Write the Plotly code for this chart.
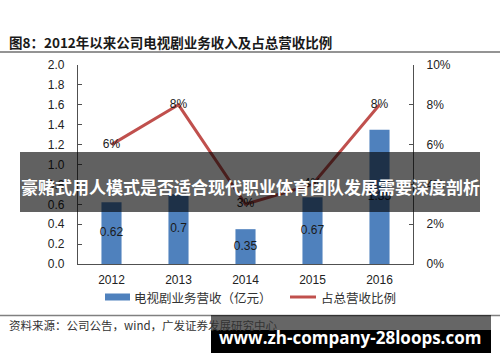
import plotly.graph_objects as go

# ---- data ----
years = ["2012", "2013", "2014", "2015", "2016"]
revenue = [0.62, 0.7, 0.35, 0.67, 1.35]          # 电视剧业务营收（亿元）
ratio_pct = [6, 8, 3, 4, 8]                       # 占总营收比例 (%)
left_ticks = [0.0, 0.2, 0.4, 0.6, 0.8, 1.0, 1.2, 1.4, 1.6, 1.8, 2.0]
right_ticks = [0, 2, 4, 6, 8, 10]

title_text = "图8：2012年以来公司电视剧业务收入及占总营收比例"
legend_bar = "电视剧业务营收（亿元）"
legend_line = "占总营收比例"
source_text = "资料来源：公司公告，wind，广发证券发展研究中心"
banner_text = "豪赌式用人模式是否适合现代职业体育团队发展需要深度剖析"
watermark_text = "www.zh-company-28loops.com"

# ---- layout geometry ----
W, H = 500, 362
L, R, T, B = 78, 87, 65, 98
PW, PH = W - L - R, H - T - B


def px(x):
    return (x - L) / PW


def py(y):
    return (H - B - y) / PH


NUM_FONT = "Liberation Sans, Arial, sans-serif"
CJK_FONT = "Noto Sans CJK SC, sans-serif"
BAR_COLOR = "#4F81BD"
LINE_COLOR = "#C0504D"
AXIS_COLOR = "#505050"

fig = go.Figure()

fig.add_trace(go.Bar(
    x=years, y=revenue, marker_color=BAR_COLOR, marker_line_width=0,
    showlegend=False, hoverinfo="skip",
))
fig.add_trace(go.Scatter(
    x=years, y=[v / 2 for v in revenue], mode="text",
    text=[str(v) for v in revenue], textposition="middle center",
    textfont=dict(family=NUM_FONT, size=12, color="#1a1a1a"),
    showlegend=False, hoverinfo="skip", cliponaxis=False,
))
fig.add_trace(go.Scatter(
    x=years, y=ratio_pct, yaxis="y2", mode="lines+text",
    line=dict(color=LINE_COLOR, width=3),
    text=[f"{p}%" for p in ratio_pct], textposition="middle center",
    textfont=dict(family=NUM_FONT, size=12, color="#1a1a1a"),
    showlegend=False, hoverinfo="skip", cliponaxis=False,
))

shapes = [
    # title underline
    dict(type="line", xref="paper", yref="paper", x0=px(0), x1=px(W), y0=py(52), y1=py(52),
         line=dict(color="#707070", width=1.5)),
    # source line
    dict(type="line", xref="paper", yref="paper", x0=px(0), x1=px(W), y0=py(315.5), y1=py(315.5),
         line=dict(color="#808080", width=1.5)),
    # legend: bar swatch
    dict(type="rect", xref="paper", yref="paper", x0=px(105), x1=px(130), y0=py(300.5), y1=py(293.5),
         fillcolor=BAR_COLOR, line_width=0),
    # legend: line swatch
    dict(type="line", xref="paper", yref="paper", x0=px(290), x1=px(316), y0=py(297), y1=py(297),
         line=dict(color=LINE_COLOR, width=3)),
    # banner
    dict(type="rect", xref="paper", yref="paper", x0=px(20), x1=px(480), y0=py(212), y1=py(152),
         fillcolor="rgba(0,0,0,0.62)", line_width=0, layer="above"),
    # watermark
    dict(type="rect", xref="paper", yref="paper", x0=px(211), x1=px(491), y0=py(330), y1=py(315),
         fillcolor="rgba(0,0,0,0.6)", line_width=0, layer="above"),
    dict(type="rect", xref="paper", yref="paper", x0=px(211), x1=px(491), y0=py(353), y1=py(330),
         fillcolor="#000000", line_width=0, layer="above"),
]

annotations = [
    dict(text=f"<b>{title_text}</b>", xref="paper", yref="paper", x=px(7), y=py(42),
         xanchor="left", yanchor="middle", showarrow=False,
         font=dict(family=CJK_FONT, size=13.5, color="#1a1a1a")),
    dict(text=legend_bar, xref="paper", yref="paper", x=px(132), y=py(297),
         xanchor="left", yanchor="middle", showarrow=False,
         font=dict(family=CJK_FONT, size=12.5, color="#333333")),
    dict(text=legend_line, xref="paper", yref="paper", x=px(319), y=py(297),
         xanchor="left", yanchor="middle", showarrow=False,
         font=dict(family=CJK_FONT, size=12.5, color="#333333")),
    dict(text=source_text, xref="paper", yref="paper", x=px(7), y=py(325),
         xanchor="left", yanchor="middle", showarrow=False,
         font=dict(family=CJK_FONT, size=11.5, color="#333333")),
    dict(text=f"<b>{banner_text}</b>", xref="paper", yref="paper", x=px(250), y=py(186),
         xanchor="center", yanchor="middle", showarrow=False,
         font=dict(family=CJK_FONT, size=17, color="#ffffff")),
    dict(text=f"<b>{watermark_text}</b>", xref="paper", yref="paper", x=px(350), y=py(337),
         xanchor="center", yanchor="middle", showarrow=False,
         font=dict(family="Open Sans, sans-serif", size=17, color="#ffffff")),
]

fig.update_layout(
    width=W, height=H,
    margin=dict(l=L, r=R, t=T, b=B, pad=0),
    paper_bgcolor="white", plot_bgcolor="white",
    bargap=0.70,
    showlegend=False,
    shapes=shapes,
    annotations=annotations,
    xaxis=dict(
        type="category", showline=True, linecolor=AXIS_COLOR, linewidth=1.2,
        showgrid=False, ticks="", zeroline=False,
        tickfont=dict(family=NUM_FONT, size=12, color="#222222"),
        ticklabelstandoff=4,
    ),
    yaxis=dict(
        range=[0, 2.0], tickvals=left_ticks, ticktext=[f"{v:.1f}" for v in left_ticks],
        showline=True, linecolor=AXIS_COLOR, linewidth=1.2, showgrid=False, zeroline=False,
        ticks="inside", ticklen=4, tickcolor=AXIS_COLOR,
        tickfont=dict(family=NUM_FONT, size=12, color="#222222"),
        ticklabelstandoff=10,
    ),
    yaxis2=dict(
        range=[0, 10], tickvals=right_ticks, ticktext=[f"{v}%" for v in right_ticks],
        overlaying="y", side="right",
        showline=True, linecolor=AXIS_COLOR, linewidth=1.2, showgrid=False, zeroline=False,
        ticks="inside", ticklen=4, tickcolor=AXIS_COLOR,
        tickfont=dict(family=NUM_FONT, size=12, color="#222222"),
        ticklabelstandoff=10,
    ),
)

fig.write_html("out.html")
